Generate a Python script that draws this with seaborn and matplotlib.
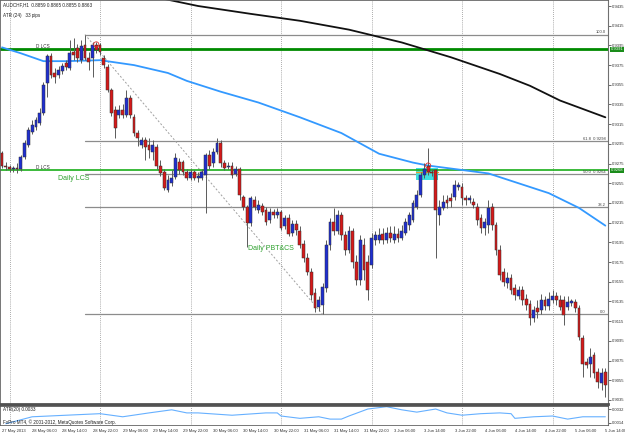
import numpy as np
import pandas as pd
import matplotlib
matplotlib.use("Agg")
import matplotlib.pyplot as plt
import matplotlib.transforms as mtransforms
import seaborn as sns

sns.set_theme(style="white")
plt.rcParams['font.family'] = ['Liberation Sans', 'DejaVu Sans']

# ---------------- data (AUDCHF H1) ----------------
opens = [0.9286,0.9273,0.9272,0.9270,0.9271,0.9269,0.9282,0.9294,0.9307,0.9312,
         0.9316,0.9326,0.9357,0.9384,0.9367,0.9365,0.9369,0.9377,0.9372,0.9388,
         0.9392,0.9380,0.9395,0.9382,0.9382,0.9395,0.9395,0.9382,0.9373,0.9350,
         0.9329,0.9324,0.9329,0.9324,0.9342,0.9322,0.9306,0.9294,0.9299,0.9294,
         0.9287,0.9292,0.9273,0.9266,0.9248,0.9255,0.9261,0.9277,0.9277,0.9266,
         0.9260,0.9266,0.9260,0.9260,0.9263,0.9284,0.9276,0.9287,0.9296,0.9276,
         0.9272,0.9273,0.9264,0.9270,0.9241,0.9231,0.9215,0.9238,0.9228,0.9232,
         0.9228,0.9218,0.9226,0.9223,0.9226,0.9212,0.9220,0.9205,0.9214,0.9207,
         0.9193,0.9179,0.9165,0.9144,0.9129,0.9131,0.9149,0.9192,0.9216,0.9207,
         0.9223,0.9202,0.9187,0.9207,0.9175,0.9157,0.9192,0.9175,0.9172,0.9197,
         0.9197,0.9204,0.9197,0.9205,0.9197,0.9204,0.9199,0.9205,0.9213,0.9218,
         0.9231,0.9243,0.9263,0.9273,0.9266,0.9268,0.9223,0.9230,0.9238,0.9240,
         0.9241,0.9251,0.9251,0.9240,0.9238,0.9236,0.9231,0.9220,0.9210,0.9213,
         0.9231,0.9213,0.9187,0.9165,0.9154,0.9159,0.9149,0.9141,0.9147,0.9138,
         0.9132,0.9118,0.9128,0.9126,0.9136,0.9130,0.9136,0.9141,0.9136,0.9136,
         0.9129,0.9133,0.9134,0.9128,0.9098,0.9074,0.9072,0.9081,0.9063,0.9052,
         0.9063]
closes = [0.9273,0.9272,0.9270,0.9271,0.9269,0.9282,0.9296,0.9309,0.9314,0.9319,
          0.9326,0.9355,0.9384,0.9365,0.9363,0.9370,0.9374,0.9373,0.9387,0.9385,
          0.9382,0.9394,0.9382,0.9378,0.9395,0.9390,0.9388,0.9375,0.9350,0.9326,
          0.9311,0.9329,0.9324,0.9342,0.9324,0.9306,0.9301,0.9299,0.9292,0.9289,
          0.9294,0.9273,0.9265,0.9250,0.9258,0.9260,0.9281,0.9268,0.9266,0.9260,
          0.9266,0.9260,0.9262,0.9266,0.9284,0.9273,0.9287,0.9296,0.9276,0.9271,
          0.9272,0.9263,0.9270,0.9243,0.9231,0.9215,0.9240,0.9231,0.9233,0.9226,
          0.9216,0.9226,0.9223,0.9226,0.9210,0.9220,0.9204,0.9214,0.9208,0.9192,
          0.9179,0.9165,0.9142,0.9128,0.9136,0.9150,0.9192,0.9216,0.9207,0.9223,
          0.9202,0.9187,0.9207,0.9175,0.9157,0.9197,0.9167,0.9147,0.9199,0.9202,
          0.9203,0.9197,0.9205,0.9199,0.9204,0.9199,0.9207,0.9216,0.9223,0.9235,
          0.9243,0.9263,0.9270,0.9266,0.9265,0.9228,0.9231,0.9236,0.9235,0.9237,
          0.9253,0.9253,0.9240,0.9238,0.9240,0.9233,0.9218,0.9210,0.9216,0.9230,
          0.9213,0.9187,0.9162,0.9155,0.9159,0.9147,0.9142,0.9147,0.9136,0.9131,
          0.9118,0.9126,0.9124,0.9136,0.9130,0.9138,0.9141,0.9136,0.9129,0.9121,
          0.9134,0.9135,0.9128,0.9099,0.9072,0.9071,0.9079,0.9062,0.9053,0.9062,
          0.9050]
highs = [0.9288,0.9277,0.9274,0.9273,0.9276,0.9284,0.9299,0.9312,0.9319,0.9322,
         0.9331,0.9358,0.9386,0.9387,0.9372,0.9374,0.9377,0.9380,0.9400,0.9403,
         0.9396,0.9400,0.9406,0.9388,0.9398,0.9398,0.9397,0.9385,0.9376,0.9352,
         0.9333,0.9334,0.9335,0.9350,0.9345,0.9325,0.9309,0.9302,0.9302,0.9301,
         0.9299,0.9295,0.9279,0.9270,0.9263,0.9268,0.9286,0.9281,0.9279,0.9270,
         0.9270,0.9268,0.9266,0.9270,0.9286,0.9289,0.9291,0.9301,0.9299,0.9279,
         0.9277,0.9277,0.9273,0.9272,0.9243,0.9233,0.9242,0.9242,0.9238,0.9235,
         0.9231,0.9230,0.9229,0.9230,0.9228,0.9223,0.9224,0.9218,0.9218,0.9212,
         0.9197,0.9184,0.9169,0.9149,0.9141,0.9154,0.9197,0.9220,0.9230,0.9228,
         0.9226,0.9207,0.9212,0.9210,0.9182,0.9202,0.9199,0.9182,0.9205,0.9207,
         0.9210,0.9210,0.9211,0.9212,0.9212,0.9210,0.9213,0.9220,0.9226,0.9238,
         0.9248,0.9266,0.9276,0.9291,0.9270,0.9270,0.9238,0.9243,0.9243,0.9245,
         0.9258,0.9256,0.9255,0.9243,0.9243,0.9240,0.9235,0.9224,0.9220,0.9238,
         0.9235,0.9216,0.9192,0.9169,0.9165,0.9163,0.9153,0.9151,0.9151,0.9143,
         0.9136,0.9130,0.9136,0.9143,0.9141,0.9145,0.9147,0.9145,0.9142,0.9141,
         0.9141,0.9138,0.9138,0.9131,0.9101,0.9078,0.9088,0.9084,0.9067,0.9067,
         0.9067]
lows = [0.9271,0.9268,0.9266,0.9266,0.9265,0.9267,0.9280,0.9292,0.9305,0.9309,
        0.9314,0.9324,0.9343,0.9362,0.9357,0.9362,0.9366,0.9370,0.9370,0.9380,
        0.9378,0.9377,0.9380,0.9370,0.9363,0.9387,0.9385,0.9372,0.9348,0.9323,
        0.9301,0.9321,0.9321,0.9322,0.9321,0.9303,0.9293,0.9291,0.9279,0.9281,
        0.9279,0.9270,0.9262,0.9248,0.9246,0.9252,0.9259,0.9264,0.9263,0.9258,
        0.9258,0.9258,0.9256,0.9258,0.9225,0.9270,0.9272,0.9285,0.9272,0.9268,
        0.9270,0.9260,0.9262,0.9238,0.9228,0.9190,0.9212,0.9228,0.9225,0.9223,
        0.9213,0.9215,0.9220,0.9220,0.9208,0.9209,0.9201,0.9201,0.9203,0.9189,
        0.9175,0.9162,0.9136,0.9124,0.9125,0.9122,0.9145,0.9187,0.9203,0.9204,
        0.9197,0.9182,0.9184,0.9169,0.9152,0.9152,0.9157,0.9136,0.9169,0.9192,
        0.9194,0.9193,0.9194,0.9195,0.9194,0.9195,0.9197,0.9202,0.9208,0.9216,
        0.9229,0.9241,0.9260,0.9263,0.9262,0.9179,0.9213,0.9228,0.9230,0.9231,
        0.9238,0.9248,0.9233,0.9233,0.9235,0.9230,0.9213,0.9205,0.9202,0.9205,
        0.9208,0.9182,0.9157,0.9151,0.9149,0.9143,0.9136,0.9138,0.9131,0.9126,
        0.9111,0.9114,0.9118,0.9122,0.9126,0.9126,0.9133,0.9131,0.9126,0.9111,
        0.9126,0.9130,0.9124,0.9096,0.9058,0.9067,0.9058,0.9057,0.9047,0.9045,
        0.9038]

# moving averages (read at selected bars)
ma_fast_bars = [0, 5, 11, 17, 26, 35, 44, 49, 58, 68, 79, 90, 100, 109, 113, 129, 145, 153, 160]
ma_fast_vals = [0.9393, 0.9387, 0.9379, 0.9379, 0.9380, 0.9375, 0.9367, 0.9359, 0.9348, 0.9337,
                0.9322, 0.9306, 0.9285, 0.9276, 0.9273, 0.9265, 0.9245, 0.9230, 0.9212]
ma_slow_bars = [42, 52, 66, 79, 92, 106, 119, 132, 140, 148, 160]
ma_slow_vals = [0.9443, 0.9435, 0.9427, 0.9420, 0.9411, 0.9398, 0.9383, 0.9366, 0.9354, 0.9339, 0.9322]

# ATR(20)
atr_bars = [1, 8, 17, 26, 32, 39, 45, 49, 52, 61, 70, 73, 74, 79, 84, 87, 90, 92, 97, 102,
            106, 110, 115, 118, 122, 127, 132, 135, 136, 141, 146, 150, 154, 160]
atr_vals = [0.0013, 0.0022, 0.0024, 0.0026, 0.0022, 0.0027, 0.0031, 0.0027, 0.0027, 0.0024,
            0.0027, 0.0027, 0.0023, 0.0020, 0.0022, 0.0019, 0.0019, 0.0023, 0.0032, 0.0035,
            0.0031, 0.0028, 0.0032, 0.0027, 0.0024, 0.0026, 0.0027, 0.0026, 0.0020, 0.0022,
            0.0023, 0.0019, 0.0022, 0.0022]

# levels / annotations
lcs_upper = 0.9391
lcs_lower = 0.9268
fib_high, fib_low = 0.9406, 0.9122
fib_high_bar, fib_low_bar = 22, 85
fib_ratios = [1.0, 0.618, 0.5, 0.382, 0.0]
fib_names = ["100.0", "61.8", "50.0", "38.2", "0.0"]
box_bars = (109.8, 115.7)
box_prices = (0.9258, 0.9271)
marker_bars = [25, 113]
marker_prices = [0.9396, 0.9273]

price_ticks = [0.9035, 0.9055, 0.9075, 0.9095, 0.9115, 0.9135, 0.9155, 0.9175, 0.9195, 0.9215,
               0.9235, 0.9255, 0.9275, 0.9295, 0.9315, 0.9335, 0.9355, 0.9375, 0.9395, 0.9415, 0.9435]
atr_ticks = [0.0014, 0.0032]
date_labels = ["27 May 2013", "28 May 06:00", "28 May 14:00", "28 May 22:00", "29 May 06:00",
               "29 May 14:00", "29 May 22:00", "30 May 06:00", "30 May 14:00", "30 May 22:00",
               "31 May 06:00", "31 May 14:00", "31 May 22:00", "3 Jun 06:00", "3 Jun 14:00",
               "3 Jun 22:00", "4 Jun 06:00", "4 Jun 14:00", "4 Jun 22:00", "5 Jun 06:00", "5 Jun 14:00"]
date_label_bars = list(range(0, 161, 8))
day_separator_bars = [2, 26, 50, 74, 98, 122, 146]

# ---------------- figure ----------------
W, H = 625, 433
fig = plt.figure(figsize=(W / 100, H / 100), dpi=100)
fig.patch.set_facecolor("white")
right = 608 / W
ax = fig.add_axes([0.0, (H - 404) / H, right, 404 / H])
axa = fig.add_axes([0.0, (H - 425) / H, right, 19 / H])

df = pd.DataFrame({"o": opens, "h": highs, "l": lows, "c": closes})
df["bar"] = np.arange(len(df))
xlim = (-0.53, 160.7)

fs = 3.0
for a in (ax, axa):
    a.set_facecolor("white")
    a.set_xlim(*xlim)
    for b in day_separator_bars:
        a.axvline(b, color="#909090", lw=0.6, ls=(0, (1, 1.5)), zorder=0.5)

ax.set_ylim(0.90309, 0.94411)

# fib levels
for r, nm in zip(fib_ratios, fib_names):
    lv = fib_low + r * (fib_high - fib_low)
    ax.plot([fib_high_bar, xlim[1]], [lv, lv], color="#8c8c8c", lw=0.9, zorder=1)
    txt = nm if r not in (0.618, 0.5) else f"{nm}  {lv:.4f}"
    ax.text(xlim[1] - 0.6, lv + 0.00003, txt, ha="right", va="bottom", fontsize=3.0, color="#404040")
ax.plot([fib_high_bar, fib_low_bar], [fib_high, fib_low], color="#a0a0a0", lw=0.7, ls=(0, (2, 2)), zorder=1)

# highlight box
ax.add_patch(plt.Rectangle((box_bars[0], box_prices[0]), box_bars[1] - box_bars[0],
                           box_prices[1] - box_prices[0], facecolor="#3fdfe0", edgecolor="none", zorder=1.2))
ax.plot([box_bars[0], box_bars[1]], [0.9266, 0.9266], color="#f0a030", lw=1.0, zorder=1.3)

# LCS lines
ax.axhline(lcs_upper, color="#008a00", lw=2.0, zorder=1.5)
ax.axhline(lcs_lower, color="#1aae1a", lw=1.2, zorder=1.5)
ax.text(9, lcs_upper + 0.00008, "D LCS", fontsize=3.3, color="#303030", va="bottom")
ax.text(9, lcs_lower + 0.00008, "D LCS", fontsize=3.3, color="#303030", va="bottom")
ax.text(14.9, 0.9260, "Daily LCS", fontsize=5.0, color="#2ca02c", va="center")
ax.text(65.3, 0.9189, "Daily PBT&CS", fontsize=5.0, color="#2ca02c", va="center")

# moving averages
sns.lineplot(x=ma_fast_bars, y=ma_fast_vals, ax=ax, color="#3399ff", lw=1.3, zorder=2)
sns.lineplot(x=ma_slow_bars, y=ma_slow_vals, ax=ax, color="#111111", lw=1.3, zorder=2)

# candles
up = df["c"] >= df["o"]
ax.vlines(df["bar"], df["l"], df["h"], color="#5a5a5a", lw=0.7, zorder=3)
body_h = (df["c"] - df["o"]).abs().clip(lower=0.00004)
body_b = df[["o", "c"]].min(axis=1)
cols = np.where(up, "#1f2fd0", "#d51a1a")
ax.bar(df["bar"], body_h, bottom=body_b, width=0.75, color=cols, edgecolor="#303030",
       linewidth=0.35, zorder=4)

# markers
ax.scatter(marker_bars, marker_prices, s=14, facecolors="none", edgecolors="#e03030", lw=0.6, zorder=5)

# axes styling
for a in (ax, axa):
    a.yaxis.tick_right()
    a.tick_params(axis="y", length=2, width=0.5, pad=1.0, labelsize=fs, colors="#303030")
    for s in ("left", "top"):
        a.spines[s].set_color("#606060")
        a.spines[s].set_linewidth(0.6)
    a.spines["right"].set_color("#707070")
    a.spines["right"].set_linewidth(0.8)
ax.set_yticks(price_ticks)
ax.set_yticklabels([f"{v:.4f}" for v in price_ticks])
ax.set_xticks([])
ax.spines["bottom"].set_color("#505050")
ax.spines["bottom"].set_linewidth(2.0)
ax.set_xlabel(""); ax.set_ylabel("")

# green price boxes on axis
trans = mtransforms.blended_transform_factory(ax.transAxes, ax.transData)
for lv in (lcs_upper, lcs_lower):
    ax.text(1.004, lv, f"{lv:.4f}", transform=trans, fontsize=fs, color="white", va="center", ha="left",
            bbox=dict(boxstyle="square,pad=0.15", fc="#1a8c1a", ec="none"), clip_on=False, zorder=10)

# header texts
fig.text(3 / W, 1 - 5 / H, "AUDCHF,H1  0.8859 0.8865 0.8855 0.8863", fontsize=3.3, va="center", color="#202020")
fig.text(3 / W, 1 - 16 / H, "ATR (24)   33 pips", fontsize=3.3, va="center", color="#202020")

# ATR panel
axa.set_ylim(0.00114, 0.00359)
sns.lineplot(x=atr_bars, y=atr_vals, ax=axa, color="#66b0ff", lw=0.8)
axa.set_yticks(atr_ticks)
axa.set_yticklabels([f"{v:.4f}" for v in atr_ticks])
axa.spines["top"].set_color("#505050")
axa.spines["top"].set_linewidth(1.2)
axa.spines["bottom"].set_color("#606060")
axa.spines["bottom"].set_linewidth(0.6)
axa.set_xticks(date_label_bars)
axa.set_xticklabels(date_labels, ha="left")
axa.tick_params(axis="x", length=2, width=0.5, pad=0.8, labelsize=fs, colors="#303030")
axa.set_xlabel(""); axa.set_ylabel("")
axa.text(3 / 608, 0.83, "ATR(20) 0.0033", transform=axa.transAxes, fontsize=3.3, va="center", color="#202020")
axa.text(3 / 608, 0.17, "FxPro MT4, \u00a9 2001-2012, MetaQuotes Software Corp.", transform=axa.transAxes,
         fontsize=3.3, va="center", color="#202020")

fig.savefig("out.png", dpi=100, facecolor="white")
